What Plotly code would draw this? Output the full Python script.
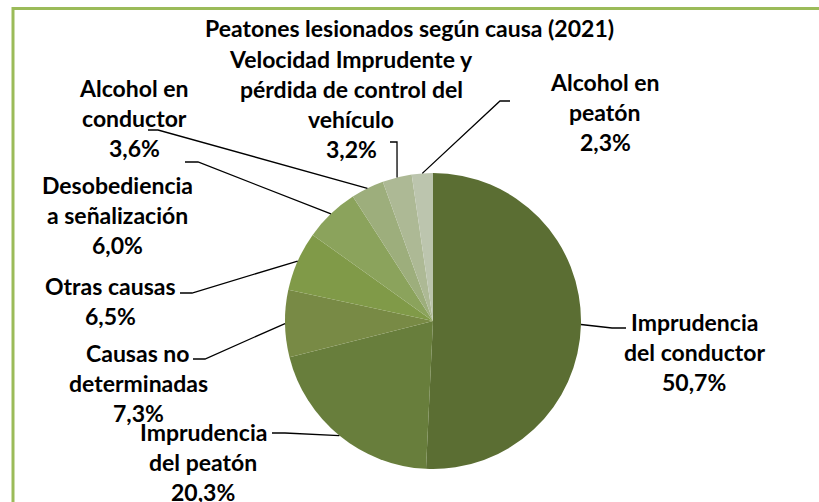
import math
import plotly.graph_objects as go

# ---- data ----
categories = [
    "Imprudencia<br>del conductor",
    "Imprudencia<br>del peatón",
    "Causas no<br>determinadas",
    "Otras causas",
    "Desobediencia<br>a señalización",
    "Alcohol en<br>conductor",
    "Velocidad Imprudente y<br>pérdida de control del<br>vehículo",
    "Alcohol en<br>peatón",
]
values = [50.7, 20.3, 7.3, 6.5, 6.0, 3.6, 3.2, 2.3]
title_text = "Peatones lesionados según causa (2021)"

# ---- styling / layout ----
colors = ["#5B6E33", "#687E3C", "#788A45", "#809A48",
          "#8BA35C", "#9DAE7C", "#ADB995", "#BCC5AE"]
W, H = 819, 502
CX, CY, R = 433, 321, 148  # pie centre / radius in px
FONT = "Lato"
FS = 23
LH = 30  # line spacing px

# label block positions (centre x, first-line y) in px
label_pos = [(694, 322), (203, 432), (138, 353), (111, 286),
             (117, 185), (134, 88), (351, 59), (605, 82)]
# leader elbows and ends in px
leader_pts = [
    [(612, 328), (626, 328)],
    [(285, 433), (272, 433)],
    [(205, 359), (193, 359)],
    [(192, 293), (180, 293)],
    [(198, 162), (185, 162)],
    [(158, 130), (148, 130)],
    [(397, 142), (390, 142)],
    [(500, 101), (510, 101)],
]


def px(x):
    return x / W


def py(y):
    return 1 - y / H


fig = go.Figure(go.Pie(
    labels=categories, values=values, sort=False, direction="clockwise",
    rotation=0, textinfo="none", hoverinfo="label+percent",
    marker=dict(colors=colors, line=dict(width=0)),
    domain=dict(x=[px(CX - R), px(CX + R)], y=[py(CY + R), py(CY - R)]),
    showlegend=False,
))

annotations = []
shapes = []

# title
annotations.append(dict(text="<b>%s</b>" % title_text, x=px(409), y=py(28),
                        xref="paper", yref="paper", showarrow=False,
                        xanchor="center", yanchor="middle",
                        font=dict(family=FONT, size=FS, color="#000000")))

total = sum(values)
cum = 0.0
for i, (cat, v) in enumerate(zip(categories, values)):
    mid = (cum + v / 2) / total * 2 * math.pi
    cum += v
    ax = CX + R * math.sin(mid)
    ay = CY - R * math.cos(mid)
    lines = cat.split("<br>") + [("%.1f%%" % v).replace(".", ",")]
    lx, ly = label_pos[i]
    for k, ln in enumerate(lines):
        annotations.append(dict(text="<b>%s</b>" % ln, x=px(lx), y=py(ly + k * LH),
                                xref="paper", yref="paper", showarrow=False,
                                xanchor="center", yanchor="middle",
                                font=dict(family=FONT, size=FS, color="#000000")))
    pts = [(ax, ay)] + leader_pts[i]
    path = "M " + " L ".join("%f %f" % (px(x), py(y)) for x, y in pts)
    shapes.append(dict(type="path", path=path, xref="paper", yref="paper",
                       line=dict(color="#000000", width=1.3)))

# outer green frame (cropped on right / bottom)
shapes.append(dict(type="rect", xref="paper", yref="paper",
                   x0=px(13), x1=1.05, y0=-0.05, y1=py(8.5),
                   line=dict(color="#9BBB59", width=3), fillcolor="rgba(0,0,0,0)"))

fig.update_layout(
    width=W, height=H, margin=dict(l=0, r=0, t=0, b=0),
    paper_bgcolor="white", plot_bgcolor="white",
    annotations=annotations, shapes=shapes,
)

fig.write_html("out.html",
               config={"displayModeBar": False},
               post_script="document.body.style.margin='0';"
                           "document.body.style.overflow='hidden';")
